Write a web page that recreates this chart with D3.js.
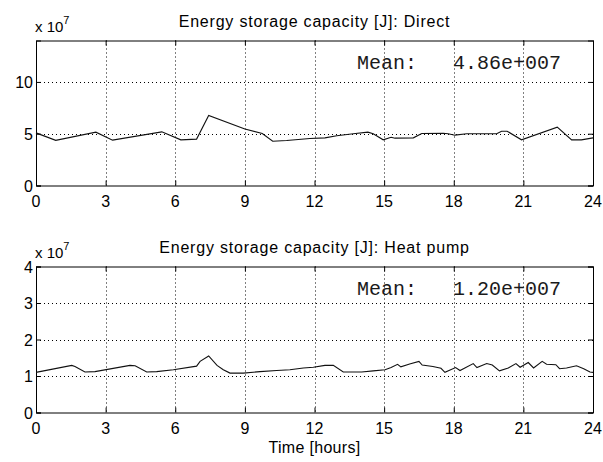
<!DOCTYPE html>
<meta charset="utf-8">
<script src="https://d3js.org/d3.v7.min.js"></script>
<style>
  body { margin: 0; background: #fff; }
  text { font-family: "Liberation Sans", Arial, sans-serif; fill: #000; }
  .mean { font-family: "Liberation Mono", "Courier New", monospace; fill: #1a1a1a; }
</style>
<body>
<div id="my_dataviz"></div>
<script>

// x ticks (hours)
var hourTicks = [0, 3, 6, 9, 12, 15, 18, 21, 24];

// Direct storage, values in units of 1e7 J
var directHours = [0, 0.85, 2.58, 3.3, 5.42, 6.24, 6.92, 7.44, 9.0, 9.75, 10.2, 10.8, 11.8, 12.45, 12.96, 13.67, 14.3, 14.53, 14.96, 15.3, 15.47, 16.26, 16.62, 17.55, 17.76, 18.05, 18.56, 19.85, 20.06, 20.3, 20.92, 22.46, 23.08, 23.5, 24];
var directValues = [5.08, 4.36, 5.15, 4.38, 5.18, 4.41, 4.48, 6.76, 5.45, 5.02, 4.27, 4.34, 4.54, 4.6, 4.8, 4.99, 5.15, 4.99, 4.41, 4.66, 4.57, 4.6, 5.02, 5.05, 5.0, 4.86, 4.99, 4.99, 5.24, 5.24, 4.41, 5.63, 4.41, 4.41, 4.6];
var directTicks = [0, 5, 10];

// Heat pump storage, values in units of 1e7 J
var heatHours = [0, 1.54, 1.68, 2.11, 2.54, 4.05, 4.27, 4.77, 5.2, 5.92, 6.92, 7.07, 7.44, 7.8, 8.07, 8.36, 8.93, 9.65, 10.37, 10.94, 11.52, 11.95, 12.45, 12.81, 13.24, 14.03, 14.53, 15.04, 15.3, 15.58, 15.72, 16.1, 16.5, 16.64, 17.1, 17.45, 17.62, 18.08, 18.27, 18.84, 19.0, 19.42, 19.66, 19.97, 20.35, 20.68, 20.86, 21.21, 21.44, 21.81, 22.0, 22.4, 22.56, 22.86, 23.29, 23.6, 23.87, 24];
var heatValues = [1.1, 1.29, 1.26, 1.11, 1.12, 1.29, 1.28, 1.11, 1.12, 1.17, 1.27, 1.40, 1.55, 1.29, 1.17, 1.08, 1.08, 1.12, 1.15, 1.17, 1.22, 1.24, 1.29, 1.29, 1.11, 1.11, 1.14, 1.17, 1.23, 1.32, 1.25, 1.33, 1.40, 1.30, 1.26, 1.21, 1.10, 1.23, 1.15, 1.34, 1.23, 1.34, 1.30, 1.14, 1.22, 1.34, 1.24, 1.37, 1.22, 1.40, 1.32, 1.31, 1.20, 1.22, 1.28, 1.20, 1.11, 1.10];
var heatTicks = [0, 1, 2, 3, 4];

var width = 603, height = 462;
var left = 36, right = 593;

var svg = d3.select("#my_dataviz")
  .append("svg")
    .attr("width", width)
    .attr("height", height);

var x = d3.scaleLinear().domain([0, 24]).range([left, right]);

function drawPanel(top, bottom, yMax, yTicks, hours, values, title, mean) {
  var y = d3.scaleLinear().domain([0, yMax]).range([bottom, top]);

  // grid (dotted)
  svg.append("g")
    .selectAll("line")
    .data(hourTicks.filter(function(d) { return d > 0 && d < 24; }))
    .enter().append("line")
      .attr("x1", function(d) { return Math.round(x(d)) + 0.5; })
      .attr("x2", function(d) { return Math.round(x(d)) + 0.5; })
      .attr("y1", top).attr("y2", bottom)
      .attr("stroke", "#000").attr("stroke-dasharray", "1,3");
  svg.append("g")
    .selectAll("line")
    .data(yTicks.filter(function(d) { return d > 0 && d < yMax; }))
    .enter().append("line")
      .attr("x1", left).attr("x2", right)
      .attr("y1", function(d) { return Math.round(y(d)) + 0.5; })
      .attr("y2", function(d) { return Math.round(y(d)) + 0.5; })
      .attr("stroke", "#000").attr("stroke-dasharray", "1,3");

  // axes, ticks inward
  svg.append("g")
    .attr("transform", "translate(0," + bottom + ")")
    .call(d3.axisTop(x).tickValues(hourTicks).tickSize(5).tickFormat(""));
  svg.append("g")
    .attr("transform", "translate(0," + top + ")")
    .call(d3.axisBottom(x).tickValues(hourTicks).tickSize(5).tickFormat(""));
  svg.append("g")
    .attr("transform", "translate(" + left + ",0)")
    .call(d3.axisRight(y).tickValues(yTicks).tickSize(5).tickFormat(""));
  svg.append("g")
    .attr("transform", "translate(" + right + ",0)")
    .call(d3.axisLeft(y).tickValues(yTicks).tickSize(5).tickFormat(""));
  svg.selectAll(".domain").attr("stroke", "#000");
  svg.selectAll(".tick line").attr("stroke", "#000");

  // tick labels
  svg.append("g").selectAll("text")
    .data(hourTicks).enter().append("text")
      .attr("x", function(d) { return x(d); })
      .attr("y", bottom + 21)
      .attr("text-anchor", "middle")
      .style("font-size", "16px")
      .text(function(d) { return d; });
  svg.append("g").selectAll("text")
    .data(yTicks).enter().append("text")
      .attr("x", left - 3)
      .attr("y", function(d) { return y(d) + 6; })
      .attr("text-anchor", "end")
      .style("font-size", "16px")
      .text(function(d) { return d; });

  // exponent label
  var ex = svg.append("text")
    .attr("x", left - 1)
    .attr("y", top - 9)
    .style("font-size", "15px");
  ex.append("tspan").text("x 10");
  ex.append("tspan").attr("dy", -8).style("font-size", "11px").text("7");

  // title
  svg.append("text")
    .attr("x", (left + right) / 2)
    .attr("y", top - 14)
    .attr("text-anchor", "middle")
    .style("font-size", "16px")
    .style("letter-spacing", "0.8px")
    .text(title);

  // mean
  svg.append("text")
    .attr("class", "mean")
    .attr("x", 357)
    .attr("y", top + 28)
    .attr("xml:space", "preserve")
    .style("white-space", "pre")
    .style("font-size", "20px")
    .text(mean);

  // line
  var pts = hours.map(function(h, i) { return [h, values[i]]; });
  svg.append("path")
    .datum(pts)
    .attr("fill", "none")
    .attr("stroke", "#111")
    .attr("stroke-width", 1.1)
    .attr("d", d3.line()
      .x(function(d) { return x(d[0]); })
      .y(function(d) { return y(d[1]); }));
}

drawPanel(40.5, 185.5, 14, directTicks, directHours, directValues,
  "Energy storage capacity [J]: Direct", "Mean:   4.86e+007");
drawPanel(266.5, 412.5, 4, heatTicks, heatHours, heatValues,
  "Energy storage capacity [J]: Heat pump", "Mean:   1.20e+007");

svg.append("text")
  .attr("x", (left + right) / 2)
  .attr("y", 453)
  .attr("text-anchor", "middle")
  .style("font-size", "16px")
  .style("letter-spacing", "0.3px")
  .text("Time [hours]");

</script>
</body>
